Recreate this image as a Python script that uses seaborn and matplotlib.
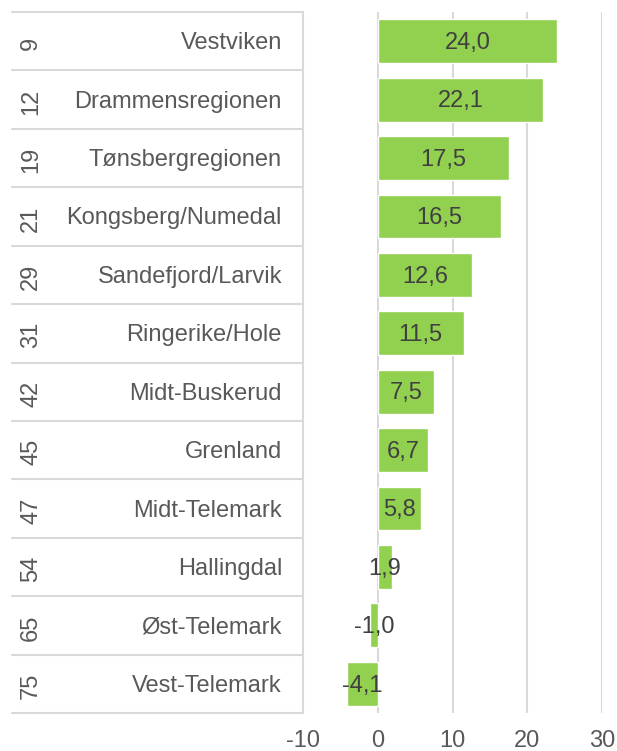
import numpy as np
import pandas as pd
import matplotlib
matplotlib.use("Agg")
import matplotlib.pyplot as plt
import seaborn as sns

# -------- data --------
ranks = [9, 12, 19, 21, 29, 31, 42, 45, 47, 54, 65, 75]
regions = ["Vestviken", "Drammensregionen", "Tønsbergregionen", "Kongsberg/Numedal",
           "Sandefjord/Larvik", "Ringerike/Hole", "Midt-Buskerud", "Grenland",
           "Midt-Telemark", "Hallingdal", "Øst-Telemark", "Vest-Telemark"]
values = [24.0, 22.1, 17.5, 16.5, 12.6, 11.5, 7.5, 6.7, 5.8, 1.9, -1.0, -4.1]
xticks = [-10, 0, 10, 20, 30]

df = pd.DataFrame({"rank": ranks, "region": regions, "value": values})

sns.set_theme(style="white")
plt.rcParams["font.family"] = ["Liberation Sans", "DejaVu Sans"]

TXT = "#595959"
GRID = "#D9D9D9"
GREEN = "#92D050"
FS = 17

fig = plt.figure(figsize=(6.17, 7.51), dpi=100)
W, H = 617, 751
left, right, top, bottom = 303, 602, 12, 713
ax = fig.add_axes([left / W, 1 - bottom / H, (right - left) / W, (bottom - top) / H])

sns.barplot(data=df, x="value", y="region", orient="h", color=GREEN,
            width=0.75, saturation=1, ax=ax)

ax.set_xlim(-10, 30)
ax.set_ylim(len(regions) - 0.5, -0.5)
ax.set_xticks(xticks)
ax.set_xticklabels([str(t) for t in xticks], fontsize=FS, color=TXT)
ax.tick_params(axis="x", length=0, pad=12)
ax.set_yticks([])
ax.set_xlabel("")
ax.set_ylabel("")
for s in ax.spines.values():
    s.set_visible(False)
for t in xticks[1:]:
    ax.axvline(t, color=GRID, lw=1.5, zorder=0)

# value labels centered in bars
for i, v in enumerate(values):
    ax.text(v / 2, i + 0.03, f"{v:.1f}".replace(".", ","), ha="center", va="center",
            fontsize=FS, color="#404040")

# category table on the left (no left border, like Excel's multi-level axis)
n = len(regions)
row_h = (bottom - top) / n
def fx(px):
    return px / W
def fy(py):
    return 1 - py / H

for k in range(n + 1):
    y = top + k * row_h
    fig.add_artist(plt.Line2D([fx(12), fx(left)], [fy(y), fy(y)], color=GRID, lw=1.5))
fig.add_artist(plt.Line2D([fx(left), fx(left)], [fy(top), fy(bottom)], color=GRID, lw=1.5))

for k, (r, name) in enumerate(zip(ranks, regions)):
    yc = top + (k + 0.5) * row_h + 2
    fig.text(fx(31), fy(yc), str(r), rotation=90, ha="center", va="center",
             fontsize=FS, color=TXT)
    fig.text(fx(282), fy(yc), name, ha="right", va="center", fontsize=FS, color=TXT)

fig.savefig("out.png", dpi=100)
